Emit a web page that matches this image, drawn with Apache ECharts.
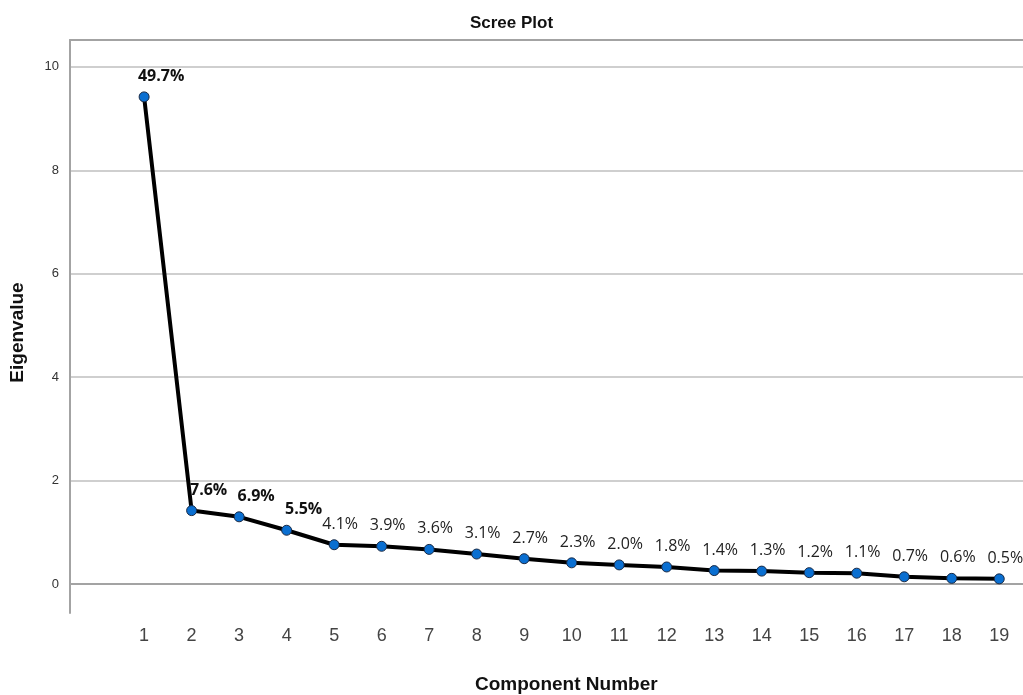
<!DOCTYPE html>
<html>
<head>
<meta charset="utf-8">
<script src="https://cdn.jsdelivr.net/npm/echarts@6/dist/echarts.min.js"></script>
<style>
html,body{margin:0;padding:0;background:#fff;}
#chart{width:1023px;height:695px;}
</style>
</head>
<body>
<div id="chart"></div>
<script>
const components = [1,2,3,4,5,6,7,8,9,10,11,12,13,14,15,16,17,18,19];
const eigenvalues = [9.42,1.42,1.30,1.04,0.76,0.73,0.67,0.58,0.49,0.41,0.37,0.33,0.26,0.25,0.22,0.21,0.14,0.11,0.10];
const pctLabels = ['49.7%','7.6%','6.9%','5.5%','4.1%','3.9%','3.6%','3.1%','2.7%','2.3%','2.0%','1.8%','1.4%','1.3%','1.2%','1.1%','0.7%','0.6%','0.5%'];
const boldLabelCount = 4;
const yTicks = [0,2,4,6,8,10];

const chart = echarts.init(document.getElementById('chart'));
const axisGray = '#a3a3a3';
const boldLabel = {offset:[17,-3],fontFamily:'Open Sans',fontSize:16,fontWeight:'bold',color:'#111'};
chart.setOption({
  backgroundColor:'#fff',
  animation:false,
  title:[
    {text:'Scree Plot',left:'center',top:10,textStyle:{fontFamily:'Liberation Sans, Arial',fontSize:17,fontWeight:'bold',color:'#111'}},
    {text:'Component Number',left:470,top:670,textStyle:{fontFamily:'Liberation Sans, Arial',fontSize:19,fontWeight:'bold',color:'#111'}}
  ],
  grid:{left:69,right:0,top:40,bottom:82},
  xAxis:[{
    type:'value',min:-0.56,max:19.5,
    axisLine:{show:true,lineStyle:{color:axisGray,width:2}},
    axisTick:{show:false,customValues:components},
    axisLabel:{customValues:components,margin:14,fontFamily:'Liberation Sans, Arial',fontSize:18,color:'#444'},
    splitLine:{show:false}
  },{
    type:'value',position:'top',min:-0.56,max:19.5,
    axisLine:{show:true,onZero:false,lineStyle:{color:axisGray,width:2}},
    axisTick:{show:false},axisLabel:{show:false},splitLine:{show:false}
  }],
  yAxis:{
    type:'value',min:-0.56,max:10.52,
    name:'Eigenvalue',nameLocation:'middle',nameGap:43,nameRotate:90,
    nameTextStyle:{fontFamily:'Liberation Sans, Arial',fontSize:19,fontWeight:'bold',color:'#111',padding:[0,0,0,-12]},
    axisLine:{show:true,onZero:false,lineStyle:{color:axisGray,width:2}},
    axisTick:{show:false,customValues:yTicks},
    axisLabel:{customValues:yTicks,margin:11,fontFamily:'Liberation Sans, Arial',fontSize:13,color:'#333'},
    splitLine:{show:true,lineStyle:{color:'#cfcfcf',width:2}}
  },
  series:[{
    type:'line',
    xAxisIndex:0,
    data:components.map((c,i)=> i<boldLabelCount ? {value:[c,eigenvalues[i]],label:boldLabel} : [c,eigenvalues[i]]),
    lineStyle:{color:'#000',width:4},
    symbol:'circle',symbolSize:10,
    itemStyle:{color:'#0a6fd1',borderColor:'#1b2a44',borderWidth:1},
    z:5,
    label:{
      show:true,position:'top',distance:4,offset:[6,-3],
      formatter:p=> pctLabels[p.dataIndex],
      fontFamily:'Open Sans',fontSize:16,color:'#222'
    }
  }]
});
</script>
</body>
</html>
